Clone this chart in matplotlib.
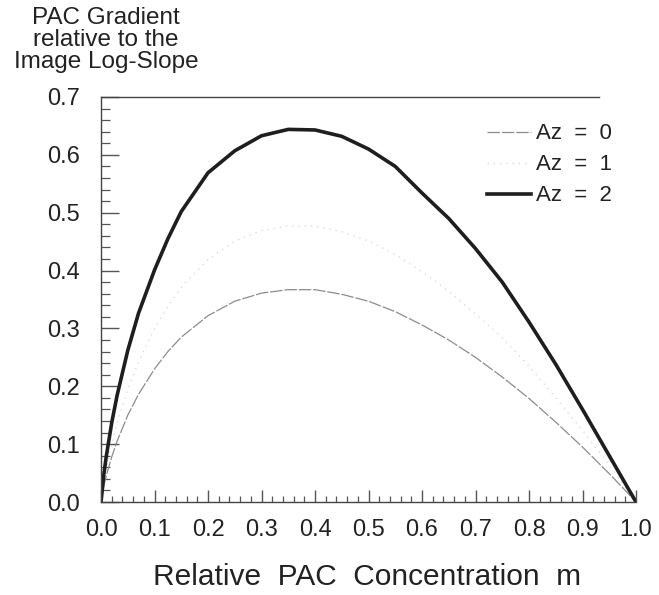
import matplotlib
matplotlib.use('Agg')
import matplotlib.pyplot as plt
from matplotlib.ticker import MultipleLocator, FormatStrFormatter

plt.rcParams['font.family'] = ['Liberation Sans', 'DejaVu Sans']

TEXT = '#222222'

# relative PAC concentration m
m = [0, 0.005, 0.01, 0.02, 0.03, 0.05, 0.07, 0.1, 0.125, 0.15, 0.2, 0.25, 0.3, 0.35,
     0.4, 0.45, 0.5, 0.55, 0.6, 0.65, 0.7, 0.75, 0.8, 0.85, 0.9, 0.95, 0.98, 1.0]

# PAC gradient relative to the image log-slope
az0 = [0, 0.026, 0.046, 0.078, 0.105, 0.150, 0.186, 0.230, 0.260, 0.285, 0.322, 0.347, 0.361, 0.367,
       0.367, 0.359, 0.347, 0.329, 0.306, 0.280, 0.250, 0.216, 0.179, 0.138, 0.095, 0.049, 0.020, 0]
az1 = [0, 0.034, 0.060, 0.100, 0.137, 0.195, 0.242, 0.300, 0.338, 0.371, 0.419, 0.451, 0.469, 0.477,
       0.477, 0.467, 0.451, 0.428, 0.398, 0.364, 0.325, 0.284, 0.235, 0.180, 0.124, 0.064, 0.026, 0]
az2 = [0, 0.046, 0.080, 0.137, 0.184, 0.262, 0.326, 0.401, 0.455, 0.502, 0.569, 0.607, 0.633, 0.644,
       0.643, 0.632, 0.610, 0.580, 0.534, 0.490, 0.438, 0.380, 0.311, 0.238, 0.160, 0.080, 0.032, 0]

labels = ['Az  =  0', 'Az  =  1', 'Az  =  2']

fig = plt.figure(figsize=(6.59, 5.95), dpi=100)
fig.patch.set_facecolor('white')
ax = fig.add_axes([0.1533, 0.1563, 0.8118, 0.6807])

ax.plot(m, az0, color='#8c8c8c', lw=0.9, linestyle=(0, (10, 1.5)), label=labels[0])
ax.plot(m, az1, color='#d4d4d4', lw=0.9, linestyle=(0, (1, 4)), label=labels[1])
ax.plot(m, az2, color='#1e1e1e', lw=2.6, label=labels[2])

ax.set_xlim(0, 1.0)
ax.set_ylim(0, 0.7)

ax.spines['right'].set_visible(False)
ax.spines['top'].set_bounds(0, 0.93)
for s in ['left', 'bottom', 'top']:
    ax.spines[s].set_color('#444444')
    ax.spines[s].set_linewidth(1.0)

ax.xaxis.set_major_locator(MultipleLocator(0.1))
ax.xaxis.set_minor_locator(MultipleLocator(0.02))
ax.yaxis.set_major_locator(MultipleLocator(0.1))
ax.yaxis.set_minor_locator(MultipleLocator(0.02))
ax.xaxis.set_major_formatter(FormatStrFormatter('%.1f'))
ax.yaxis.set_major_formatter(FormatStrFormatter('%.1f'))

ax.tick_params(axis='x', which='major', direction='in', length=9, width=1.0,
               color='#555555', labelsize=17, labelcolor=TEXT, pad=12, top=False)
ax.tick_params(axis='x', which='minor', direction='in', length=4.5, width=0.9,
               color='#555555', top=False)
ax.tick_params(axis='y', which='major', direction='in', length=13, width=1.0,
               color='#555555', labelsize=17, labelcolor=TEXT, pad=15, right=False)
ax.tick_params(axis='y', which='minor', direction='in', length=6.5, width=0.9,
               color='#555555', right=False)

leg = ax.legend(loc='upper right', bbox_to_anchor=(0.975, 0.962), frameon=False,
                fontsize=16, handlelength=2.0, handletextpad=0.2, labelspacing=0.45,
                borderpad=0)
for t in leg.get_texts():
    t.set_color(TEXT)

fig.text(0.161, 1 - 40 / 595, 'PAC Gradient\nrelative to the\nImage Log-Slope',
         ha='center', va='center', fontsize=17.5, color=TEXT, linespacing=1.0)
fig.text(0.557, 1 - 577 / 595, 'Relative  PAC  Concentration  m',
         ha='center', va='center', fontsize=21.5, color=TEXT)

fig.savefig('out.png', dpi=100, facecolor=fig.get_facecolor())
plt.close(fig)
